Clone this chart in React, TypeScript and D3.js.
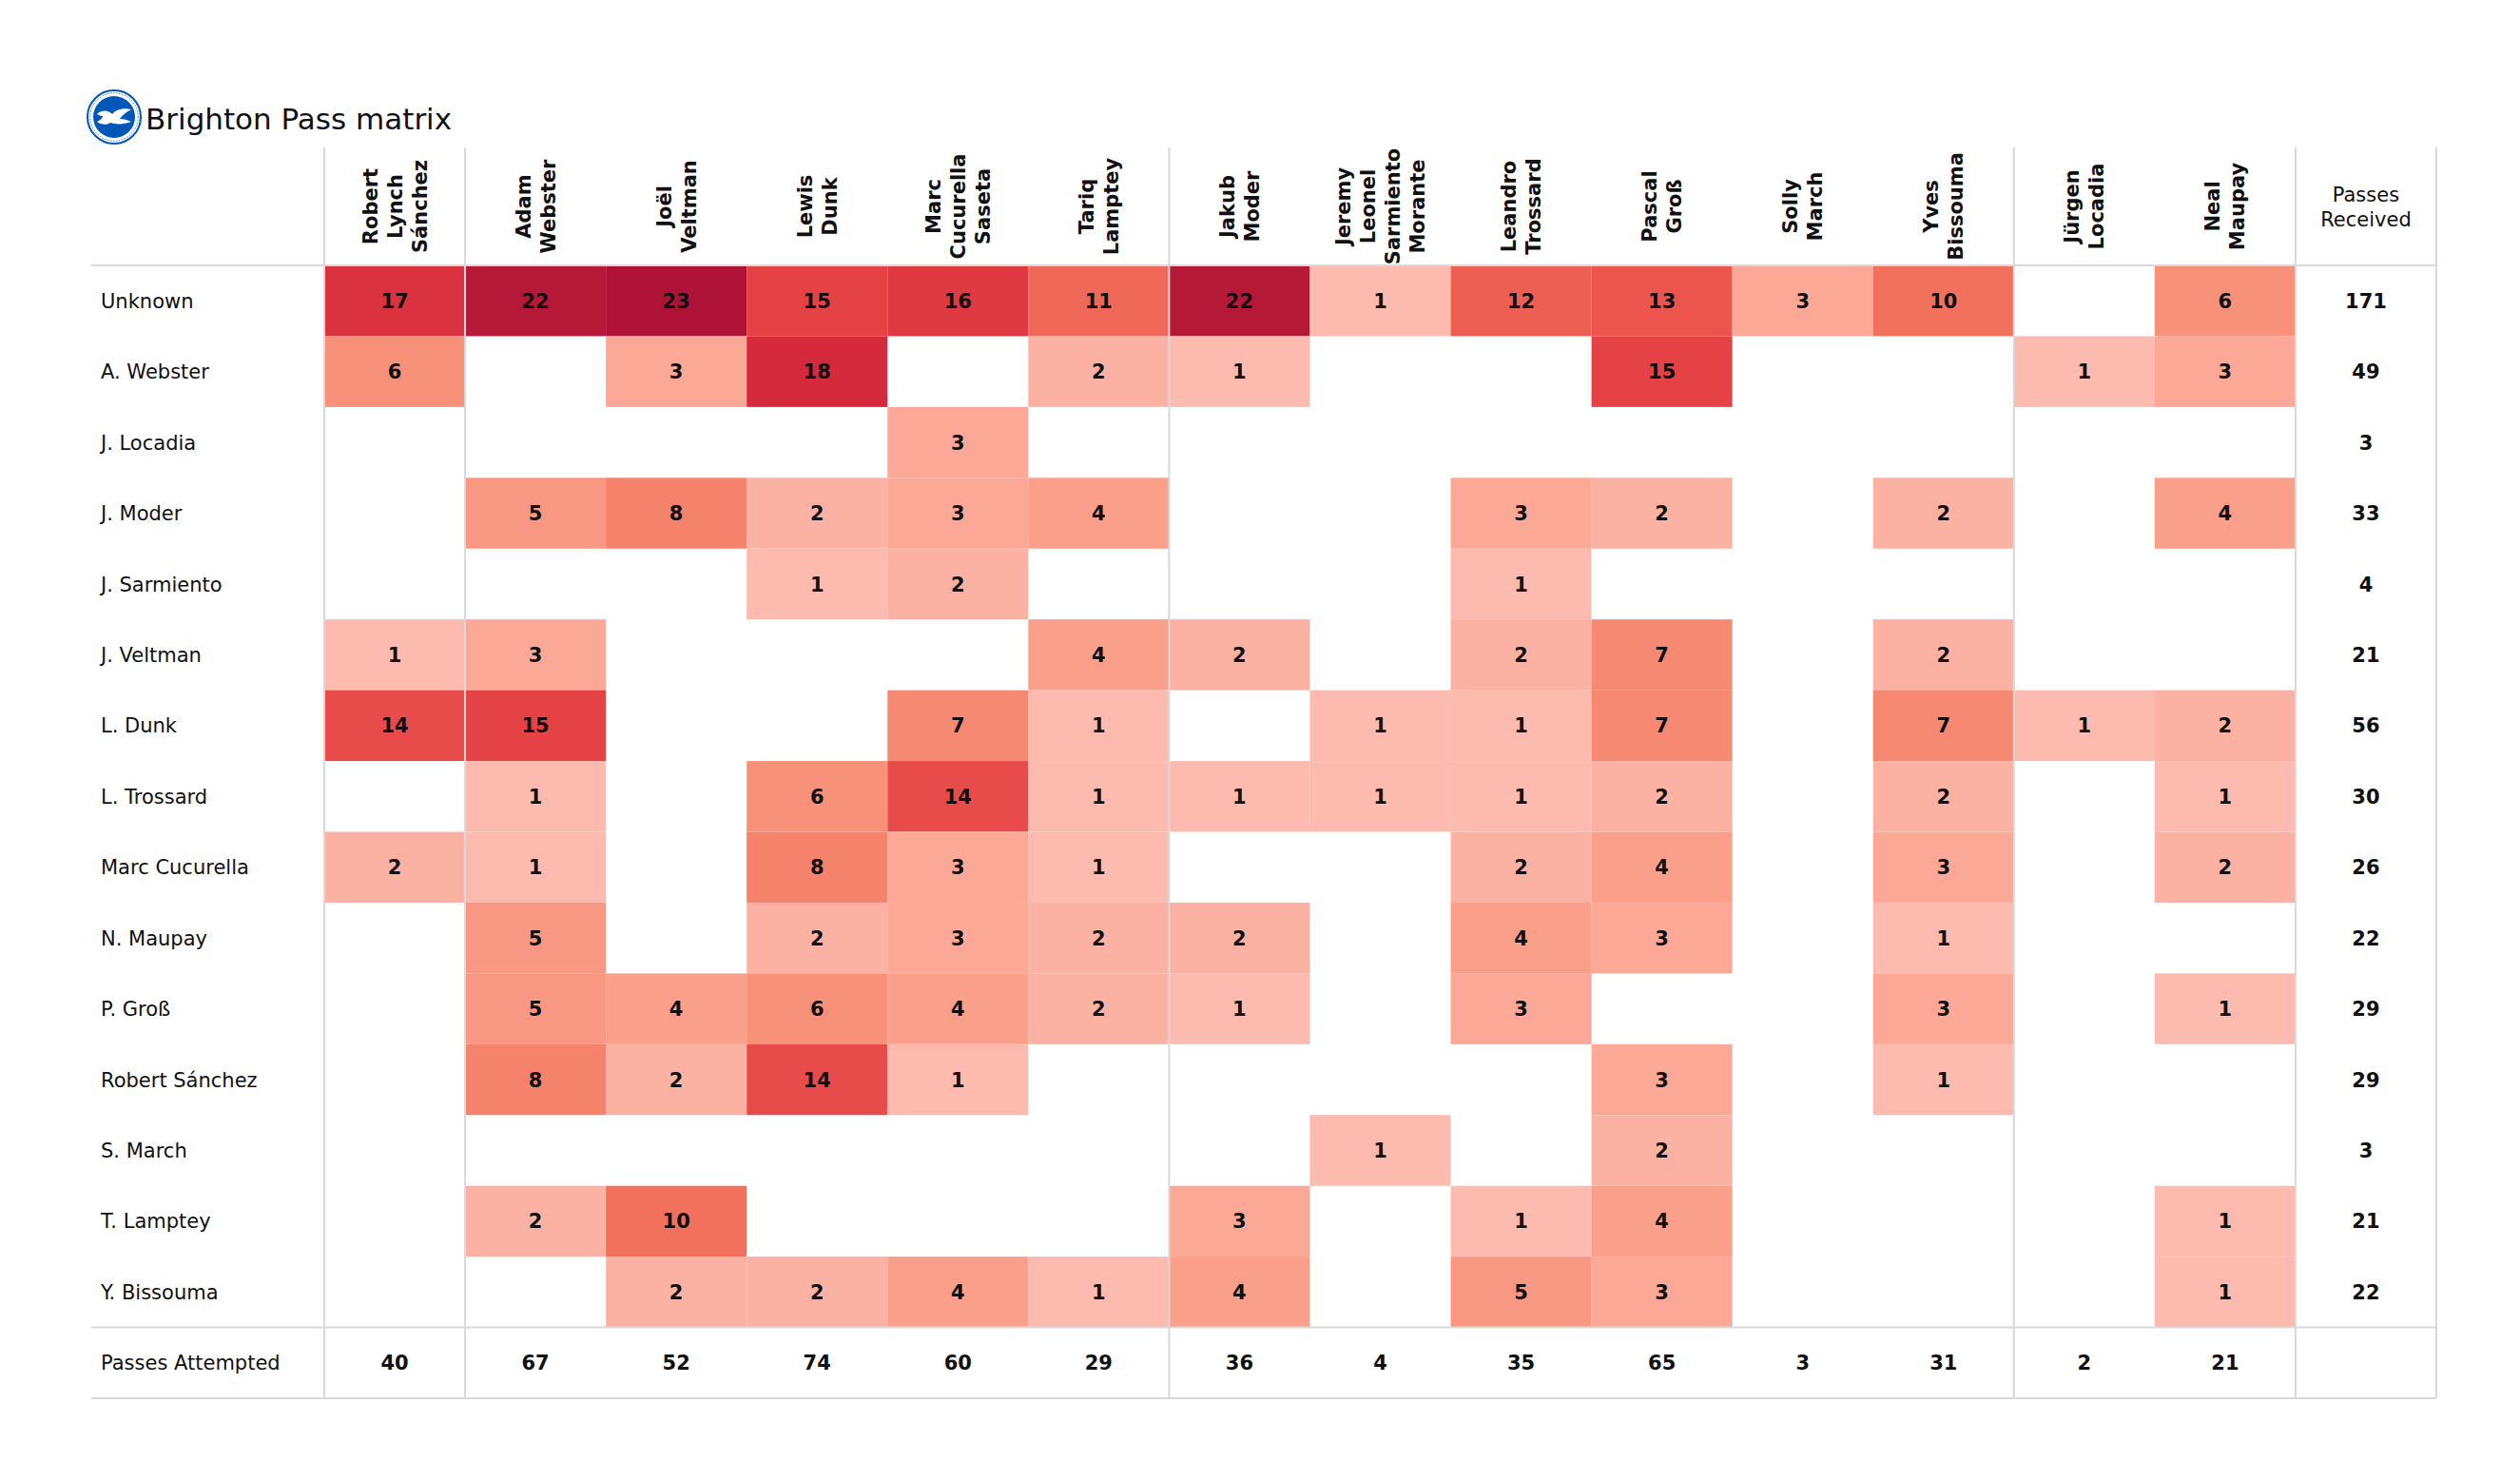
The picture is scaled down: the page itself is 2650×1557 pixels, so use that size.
import React from "react";
import * as d3 from "d3";

const receivers = [
  "Robert Lynch Sánchez",
  "Adam Webster",
  "Joël Veltman",
  "Lewis Dunk",
  "Marc Cucurella Saseta",
  "Tariq Lamptey",
  "Jakub Moder",
  "Jeremy Leonel Sarmiento Morante",
  "Leandro Trossard",
  "Pascal Groß",
  "Solly March",
  "Yves Bissouma",
  "Jürgen Locadia",
  "Neal Maupay",
];

const passers = [
  "Unknown",
  "A. Webster",
  "J. Locadia",
  "J. Moder",
  "J. Sarmiento",
  "J. Veltman",
  "L. Dunk",
  "L. Trossard",
  "Marc Cucurella",
  "N. Maupay",
  "P. Groß",
  "Robert Sánchez",
  "S. March",
  "T. Lamptey",
  "Y. Bissouma",
];

const _ = null;
const passCounts: (number | null)[][] = [
  [17, 22, 23, 15, 16, 11, 22, 1, 12, 13, 3, 10, _, 6],
  [6, _, 3, 18, _, 2, 1, _, _, 15, _, _, 1, 3],
  [_, _, _, _, 3, _, _, _, _, _, _, _, _, _],
  [_, 5, 8, 2, 3, 4, _, _, 3, 2, _, 2, _, 4],
  [_, _, _, 1, 2, _, _, _, 1, _, _, _, _, _],
  [1, 3, _, _, _, 4, 2, _, 2, 7, _, 2, _, _],
  [14, 15, _, _, 7, 1, _, 1, 1, 7, _, 7, 1, 2],
  [_, 1, _, 6, 14, 1, 1, 1, 1, 2, _, 2, _, 1],
  [2, 1, _, 8, 3, 1, _, _, 2, 4, _, 3, _, 2],
  [_, 5, _, 2, 3, 2, 2, _, 4, 3, _, 1, _, _],
  [_, 5, 4, 6, 4, 2, 1, _, 3, _, _, 3, _, 1],
  [_, 8, 2, 14, 1, _, _, _, _, 3, _, 1, _, _],
  [_, _, _, _, _, _, _, 1, _, 2, _, _, _, _],
  [_, 2, 10, _, _, _, 3, _, 1, 4, _, _, _, 1],
  [_, _, 2, 2, 4, 1, 4, _, 5, 3, _, _, _, 1],
];

const passesReceived = [171, 49, 3, 33, 4, 21, 56, 30, 26, 22, 29, 29, 3, 21, 22];
const passesAttempted = [40, 67, 52, 74, 60, 29, 36, 4, 35, 65, 3, 31, 2, 21];

const colorStops = [1, 4, 8, 11, 15, 18, 23];
const colorRange = ["#fdbbb0", "#fa9f8a", "#f5826a", "#f06857", "#e54245", "#d42a3c", "#ae1337"];

// column-group separators (indices of column boundaries)
const groupBoundaries = [0, 1, 6, 12, 14, 15];

const W = 2650;
const H = 1557;
const FONT = "DejaVu Sans, sans-serif";

export default function App() {
  const tableLeft = 96;
  const gridLeft = 341;
  const gridRight = 2562;
  const headerTop = 155;
  const headerBottom = 279;
  const tableBottom = 1470;

  const colKeys = [...receivers.map((_, i) => String(i)), "total"];
  const x = d3.scaleBand<string>().domain(colKeys).range([gridLeft, gridRight]).padding(0);
  const rowKeys = [...passers.map((_, i) => String(i)), "attempted"];
  const y = d3.scaleBand<string>().domain(rowKeys).range([headerBottom, tableBottom]).padding(0);
  const color = d3.scaleLinear<string>().domain(colorStops).range(colorRange).interpolate(d3.interpolateRgb);

  const cw = x.bandwidth();
  const rh = y.bandwidth();
  const headerMid = (headerTop + headerBottom) / 2;
  const lineGap = 26;
  const lineColor = "#d9d9d9";
  const fs = 21;

  const boundaryX = (i: number) => gridLeft + i * cw;

  return (
    <svg width={W} height={H} style={{ position: "absolute", left: 0, top: 0, background: "#fff" }} fontFamily={FONT}>
      <rect x={0} y={0} width={W} height={H} fill="#fff" />
      {/* Logo */}
      <g transform="translate(120,123)">
        <circle r={28} fill="#fff" stroke="#0057b8" strokeWidth={2} />
        <circle r={22} fill="#0057b8" />
        <circle r={25.2} fill="none" stroke="#0057b8" strokeWidth={0.8} strokeDasharray="1.5 1.5" />
        <path
          d="M-18,-3 C-12,-8 -6,-7 -2,-3 C2,-8 10,-10 18,-8 C12,-5 8,-1 6,2 C10,2 14,3 18,5 C10,8 2,8 -4,6 C-8,9 -14,8 -18,5 C-14,3 -12,1 -12,-1 C-14,-1 -16,-2 -18,-3 Z"
          fill="#fff"
        />
      </g>
      <text x={153} y={136} fontSize={31} fill="#111">Brighton Pass matrix</text>

      {/* Header labels */}
      {receivers.map((name, i) => {
        const lines = name.split(" ");
        const cx = (x(String(i)) as number) + cw / 2;
        return (
          <g key={name}>
            {lines.map((ln, j) => {
              const lx = cx + (j - (lines.length - 1) / 2) * lineGap;
              return (
                <text
                  key={j}
                  transform={`translate(${lx},${headerMid}) rotate(-90)`}
                  textAnchor="middle"
                  dy="0.36em"
                  fontSize={fs}
                  fontWeight="bold"
                  fill="#111"
                >
                  {ln}
                </text>
              );
            })}
          </g>
        );
      })}
      {(() => {
        const cx = (x("total") as number) + cw / 2;
        return (
          <g>
            <text x={cx} y={headerMid - 13} textAnchor="middle" dy="0.36em" fontSize={fs} fill="#111">Passes</text>
            <text x={cx} y={headerMid + 13} textAnchor="middle" dy="0.36em" fontSize={fs} fill="#111">Received</text>
          </g>
        );
      })()}

      {/* Cells */}
      {passCounts.map((row, r) =>
        row.map((v, c) =>
          v == null ? null : (
            <rect
              key={`c${r}-${c}`}
              x={x(String(c))}
              y={y(String(r))}
              width={cw}
              height={rh}
              fill={color(v)}
            />
          )
        )
      )}

      {/* Grid lines */}
      {[headerBottom, y("attempted") as number, tableBottom].map((yy, i) => (
        <line key={`h${i}`} x1={tableLeft} x2={gridRight} y1={yy} y2={yy} stroke={lineColor} strokeWidth={2} />
      ))}
      {groupBoundaries.map((b) => (
        <line
          key={`v${b}`}
          x1={boundaryX(b)}
          x2={boundaryX(b)}
          y1={headerTop}
          y2={tableBottom}
          stroke={lineColor}
          strokeWidth={2}
        />
      ))}

      {/* Row labels */}
      {passers.map((p, r) => (
        <text key={p} x={106} y={(y(String(r)) as number) + rh / 2} dy="0.36em" fontSize={fs} fill="#111">
          {p}
        </text>
      ))}
      <text x={106} y={(y("attempted") as number) + rh / 2} dy="0.36em" fontSize={fs} fill="#111">
        Passes Attempted
      </text>

      {/* Values */}
      {passCounts.map((row, r) =>
        row.map((v, c) =>
          v == null ? null : (
            <text
              key={`t${r}-${c}`}
              x={(x(String(c)) as number) + cw / 2}
              y={(y(String(r)) as number) + rh / 2}
              dy="0.36em"
              textAnchor="middle"
              fontSize={fs}
              fontWeight="bold"
              fill="#111"
            >
              {v}
            </text>
          )
        )
      )}
      {passesReceived.map((v, r) => (
        <text
          key={`pr${r}`}
          x={(x("total") as number) + cw / 2}
          y={(y(String(r)) as number) + rh / 2}
          dy="0.36em"
          textAnchor="middle"
          fontSize={fs}
          fontWeight="bold"
          fill="#111"
        >
          {v}
        </text>
      ))}
      {passesAttempted.map((v, c) => (
        <text
          key={`pa${c}`}
          x={(x(String(c)) as number) + cw / 2}
          y={(y("attempted") as number) + rh / 2}
          dy="0.36em"
          textAnchor="middle"
          fontSize={fs}
          fontWeight="bold"
          fill="#111"
        >
          {v}
        </text>
      ))}
    </svg>
  );
}
